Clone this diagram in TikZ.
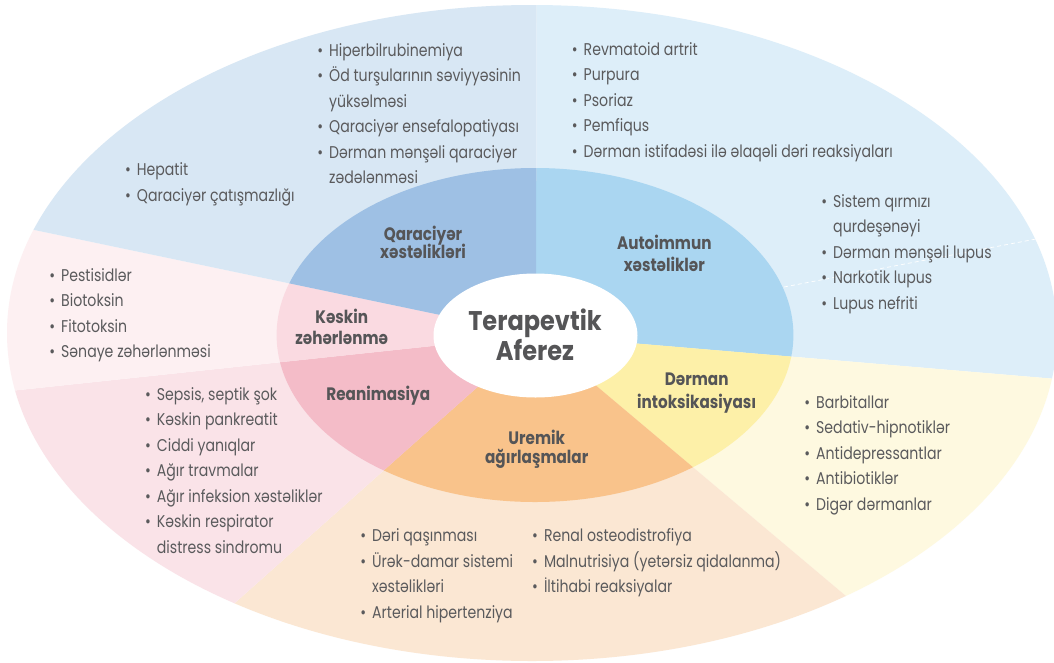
\documentclass[tikz,border=0pt]{standalone}
\usepackage{fontspec}
\setmainfont[FakeStretch=0.83]{Poppins}
\newfontfamily\labfont[FakeStretch=0.845]{Poppins}
\newfontfamily\ctrfont[FakeStretch=0.89]{Poppins}
\definecolor{qo}{HTML}{D8E7F4}
\definecolor{qm}{HTML}{9EC0E4}
\definecolor{ao}{HTML}{DDEEF9}
\definecolor{am}{HTML}{AAD6F1}
\definecolor{do}{HTML}{FEF9E0}
\definecolor{dm}{HTML}{FDF0A8}
\definecolor{uo}{HTML}{FBE7D3}
\definecolor{um}{HTML}{F9C38B}
\definecolor{ro}{HTML}{FAE3E8}
\definecolor{rm}{HTML}{F4BCC8}
\definecolor{ko}{HTML}{FDF0F2}
\definecolor{km}{HTML}{FADAE1}
\definecolor{txt}{HTML}{5A5A5C}
\definecolor{labtxt}{HTML}{555557}
\newcommand\bt{\llap{\textbullet\hspace{6pt}}}
\newcommand\itemlist[4]{%
  \foreach \t [count=\i] in {#4} {
    \node[item] (#1\i) at (#2, {#3+25.5*(\i-1)}) {\t};
  }}
\begin{document}
\begin{tikzpicture}[x=1pt,y=-1pt,
  item/.style={anchor=base west, inner sep=0pt, text=txt, font=\fontsize{17}{20}\selectfont},
  lab/.style={anchor=base, inner sep=0pt, text=labtxt, font=\labfont\bfseries\fontsize{18}{20}\selectfont},
  ctr/.style={anchor=base, inner sep=0pt, text=labtxt, font=\ctrfont\bfseries\fontsize{27}{30}\selectfont},
  sep/.style={white, dashed, dash pattern=on 4pt off 3pt, line width=0.7pt}]
\clip (0,0) rectangle (1054,662);
\fill[white] (0,0) rectangle (1054,662);
\coordinate (C) at (536,335);
\coordinate (Pup) at (537,-300);
\coordinate (Pul) at (-300,160);
\coordinate (Pl) at (-300,424);
\coordinate (Pll) at (-99,900);
\coordinate (Plr) at (1207,900);
\coordinate (Pr) at (1400,408);
% outer ring
\begin{scope}
  \clip (532,333) ellipse [x radius=525, y radius=328];
  \fill[ao] (C) -- (Pup) -- (1400,-300) -- (Pr) -- cycle;
  \fill[do] (C) -- (Pr) -- (1400,900) -- (Plr) -- cycle;
  \fill[uo] (C) -- (Plr) -- (Pll) -- cycle;
  \fill[ro] (C) -- (Pll) -- (-300,900) -- (Pl) -- cycle;
  \fill[ko] (C) -- (Pl) -- (Pul) -- cycle;
  \fill[qo] (C) -- (Pul) -- (-300,-300) -- (Pup) -- cycle;
\end{scope}
% middle ring
\begin{scope}
  \clip (535,335) ellipse [x radius=258.4, y radius=167];
  \fill[am] (C) -- (Pup) -- (1400,-300) -- (Pr) -- cycle;
  \fill[dm] (C) -- (Pr) -- (1400,900) -- (Plr) -- cycle;
  \fill[um] (C) -- (Plr) -- (Pll) -- cycle;
  \fill[rm] (C) -- (Pll) -- (-300,900) -- (Pl) -- cycle;
  \fill[km] (C) -- (Pl) -- (Pul) -- cycle;
  \fill[qm] (C) -- (Pul) -- (-300,-300) -- (Pup) -- cycle;
\end{scope}
\fill[white] (535.5,335.5) ellipse [x radius=102, y radius=62];
% faint dashed divider
\coordinate (d1) at (784,287);
\coordinate (d2) at (1036,239);
\draw[sep] (d1) -- (d2);
% centre
\node[ctr] (ct1) at (535,330) {Terapevtik};
\node[ctr] (ct2) at (535,360.7) {Aferez};
% sector labels
\node[lab] (q1) at (423,240.7) {Qaraciyər};
\node[lab] (q2) at (423,258.3) {xəstəlikləri};
\node[lab] (a1) at (664.3,249.3) {Autoimmun};
\node[lab] (a2) at (664.3,271) {xəstəliklər};
\node[lab] (k1) at (341.7,323.3) {Kəskin};
\node[lab] (k2) at (341.7,344) {zəhərlənmə};
\node[lab] (r1) at (378.3,400.7) {Reanimasiya};
\node[lab] (u1) at (536.7,444.3) {Uremik};
\node[lab] (u2) at (536.7,463.3) {ağırlaşmalar};
\node[lab] (m1) at (696.7,385) {Dərman};
\node[lab] (m2) at (696.7,408.3) {intoksikasiyası};
% lists
\itemlist{ql}{329}{56}{{\bt Hiperbilrubinemiya},{\bt Öd turşularının səviyyəsinin},{yüksəlməsi},{\bt Qaraciyər ensefalopatiyası},{\bt Dərman mənşəli qaraciyər},{zədələnməsi}}
\itemlist{hl}{136.7}{175.7}{{\bt Hepatit},{\bt Qaraciyər çatışmazlığı}}
\itemlist{al}{583.5}{55}{{\bt Revmatoid artrit},{\bt Purpura},{\bt Psoriaz},{\bt Pemfiqus},{\bt Dərman istifadəsi ilə əlaqəli dəri reaksiyaları}}
\itemlist{ll}{833}{207.3}{{\bt Sistem qırmızı},{qurdeşənəyi},{\bt Dərman mənşəli lupus},{\bt Narkotik lupus},{\bt Lupus nefriti}}
\itemlist{kl}{61}{281}{{\bt Pestisidlər},{\bt Biotoksin},{\bt Fitotoksin},{\bt Sənaye zəhərlənməsi}}
\itemlist{rl}{156.7}{400}{{\bt Sepsis, septik şok},{\bt Kəskin pankreatit},{\bt Ciddi yanıqlar},{\bt Ağır travmalar},{\bt Ağır infeksion xəstəliklər},{\bt Kəskin respirator},{distress sindromu}}
\itemlist{ul}{372}{541.7}{{\bt Dəri qaşınması},{\bt Ürək-damar sistemi},{xəstəlikləri},{\bt Arterial hipertenziya}}
\itemlist{ur}{543.8}{541.7}{{\bt Renal osteodistrofiya},{\bt Malnutrisiya (yetərsiz qidalanma)},{\bt İltihabi reaksiyalar}}
\itemlist{dl}{816}{408.3}{{\bt Barbitallar},{\bt Sedativ-hipnotiklər},{\bt Antidepressantlar},{\bt Antibiotiklər},{\bt Digər dərmanlar}}
\end{tikzpicture}
\end{document}
